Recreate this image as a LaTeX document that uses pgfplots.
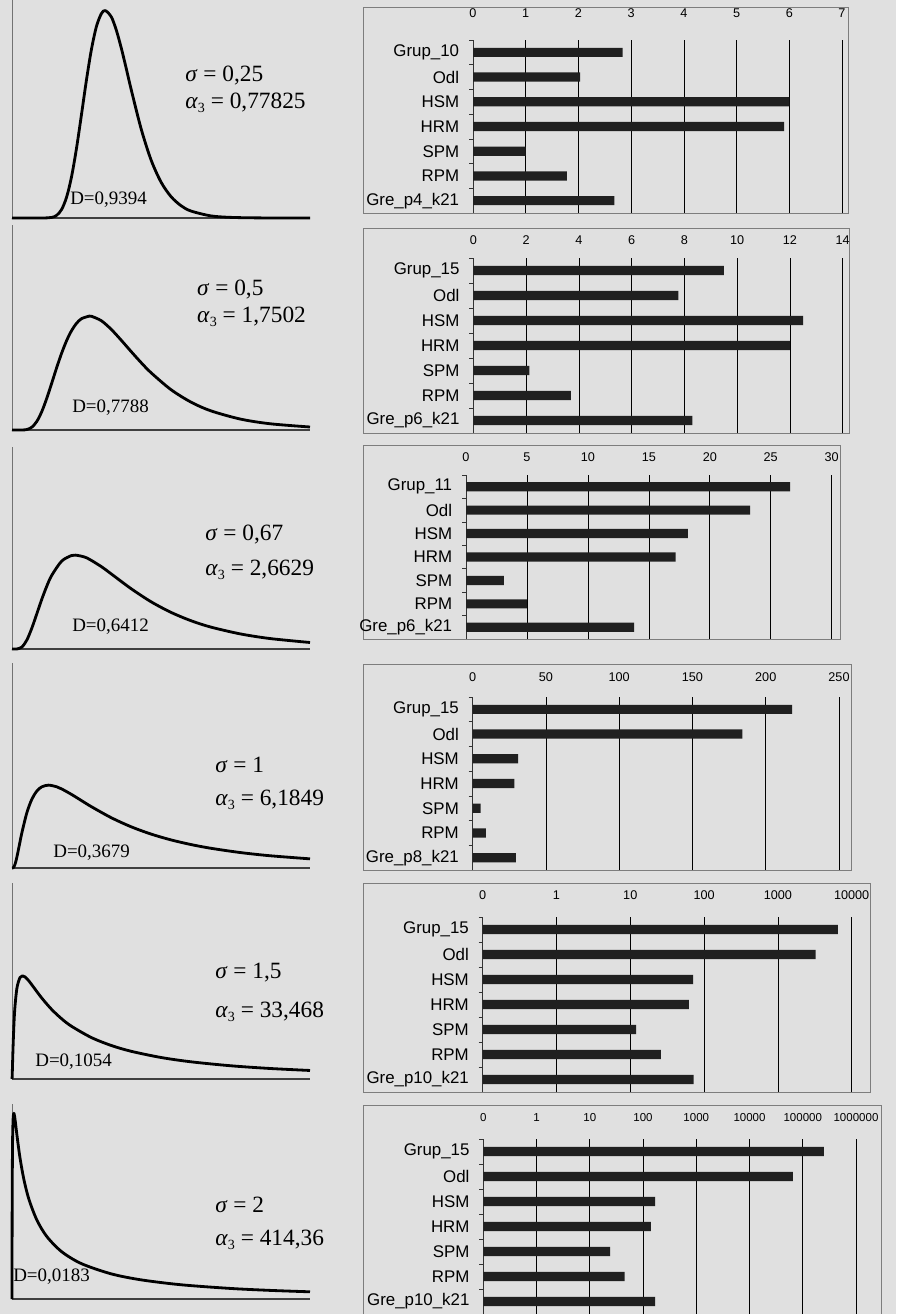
\documentclass[border=0pt]{standalone}
\usepackage{fontspec}
\setmainfont{Liberation Serif}
\setsansfont{Liberation Sans}
\usepackage{pgfplots}
\pgfplotsset{compat=1.18}
\definecolor{bg}{RGB}{224,224,224}
\definecolor{barc}{RGB}{32,32,32}
\definecolor{framec}{RGB}{125,125,125}
\newcommand{\sub}[1]{{\fontsize{10}{12}\selectfont\raisebox{-0.55ex}{#1}}}
\tikzset{
  ann/.style={font=\fontsize{16.6}{18}\selectfont, anchor=west, inner sep=0pt},
  dlab/.style={font=\fontsize{13.5}{15}\selectfont, anchor=west, inner sep=0pt},
}
\pgfplotsset{
  curve axis/.style={
    scale only axis, width=74.5mm,
    xmin=0, xmax=3, ymin=0,
    axis x line*=bottom, axis y line*=left,
    x axis line style={black!75, line width=0.9pt},
    y axis line style={black!55, line width=0.5pt},
    xtick=\empty, ytick=\empty,
    clip=false, anchor=south west,
  },
  curve/.style={black, line width=2pt, smooth, line join=round, mark=none},
  bar axis/.style={
    scale only axis, anchor=north west,
    axis x line*=top, axis y line*=left,
    x axis line style={draw=none},
    y axis line style={black!80, line width=0.6pt},
    xmajorgrids, major grid style={black, line width=0.45pt},
    ymin=-0.5, ymax=6.5, y dir=reverse,
    ytick={0,...,6},
    minor ytick={-0.5,0.5,1.5,2.5,3.5,4.5,5.5},
    tick align=outside, major tick length=0pt, minor tick length=1mm,
    minor tick style={black!80, line width=0.5pt},
    xminorticks=false,
    y tick label style={font=\sffamily\fontsize{12}{14}\selectfont, inner sep=0pt},
    x tick label style={font=\sffamily\fontsize{9}{10}\selectfont, inner sep=0pt, text depth=0pt},
    yticklabel shift=3.4mm,
    /pgf/number format/assume math mode=true,
  },
  bars/.style={xbar, bar width=2.3mm, fill=barc, draw=none},
}
\begin{document}
\begin{tikzpicture}
\useasboundingbox (0,0) rectangle (224mm,-328.5mm);
\fill[bg] (0,0) rectangle (224mm,-328.5mm);
% frames of bar charts
\draw[framec, line width=0.5pt] (90.75mm,-1.75mm) rectangle (212mm,-53.25mm);
\draw[framec, line width=0.5pt] (90.75mm,-57mm) rectangle (212.25mm,-108.25mm);
\draw[framec, line width=0.5pt] (90.75mm,-111.25mm) rectangle (210mm,-159.75mm);
\draw[framec, line width=0.5pt] (90.75mm,-166mm) rectangle (212.75mm,-217.5mm);
\draw[framec, line width=0.5pt] (90.75mm,-220.75mm) rectangle (217.5mm,-273mm);
\draw[framec, line width=0.5pt] (90.75mm,-276.25mm) rectangle (220.25mm,-328.5mm);

% ---------- Row 1 ----------
\begin{axis}[curve axis, at={(3mm,-54.5mm)}, height=54.5mm, ymax=1.73]
\addplot[curve] coordinates {(0,0) (0.3,0) (0.4,0.0048) (0.45,0.0216) (0.5,0.0683) (0.55,0.1664) (0.6,0.3298) (0.65,0.5563) (0.7,0.8239) (0.75,1.0975) (0.8,1.3393) (0.85,1.5199) (0.9,1.6224) (0.9394,1.646) (1.0,1.5958) (1.05,1.4911) (1.1,1.3490) (1.15,1.1869) (1.2,1.0193) (1.3,0.7077) (1.4,0.4607) (1.5,0.2855) (1.6,0.1704) (1.7,0.0987) (1.8,0.0559) (2.0,0.0171) (2.2,0.0050) (2.5,0.0008) (3.0,0)};
\node[ann] at (axis cs:1.742,1.127) {\textit{σ} = 0,25};
\node[ann] at (axis cs:1.742,0.913) {\textit{α}\sub{3} = 0,77825};
\node[dlab] at (axis cs:0.584,0.143) {D=0,9394};
\end{axis}
\begin{axis}[bar axis, at={(118.25mm,-10mm)}, width=92.25mm, height=43.25mm,
  xmin=0, xmax=7, xtick={0,...,7}, xticklabel shift=5.6mm,
  yticklabels={Grup\_10,Odl,HSM,HRM,SPM,RPM,Gre\_p4\_k21}]
\addplot[bars] coordinates {(2.84,0) (2.03,1) (6.0,2) (5.9,3) (1.0,4) (1.78,5) (2.68,6)};
\end{axis}

% ---------- Row 2 ----------
\begin{axis}[curve axis, at={(3mm,-107.5mm)}, height=51.25mm, ymax=1.627]
\addplot[curve] coordinates {(0,0) (0.1,0.0002) (0.15,0.004) (0.2,0.0225) (0.25,0.0684) (0.3,0.1465) (0.35,0.2517) (0.4,0.372) (0.45,0.4954) (0.5,0.6104) (0.55,0.7098) (0.6,0.7892) (0.65,0.8469) (0.7,0.8837) (0.7788,0.904) (0.8,0.9028) (0.9,0.867) (1.0,0.7979) (1.1,0.7123) (1.2,0.6222) (1.3,0.5348) (1.4,0.4545) (1.6,0.3206) (1.8,0.2221) (2.0,0.1526) (2.3,0.0866) (2.6,0.0494) (3.0,0.0238)};
\node[ann] at (axis cs:1.862,1.111) {\textit{σ} = 0,5};
\node[ann] at (axis cs:1.862,0.897) {\textit{α}\sub{3} = 1,7502};
\node[dlab] at (axis cs:0.604,0.175) {D=0,7788};
\end{axis}
\begin{axis}[bar axis, at={(118.33mm,-64.5mm)}, width=92.35mm, height=43.75mm,
  xmin=0, xmax=14, xtick={0,2,...,14}, xticklabel shift=3.2mm,
  yticklabels={Grup\_15,Odl,HSM,HRM,SPM,RPM,Gre\_p6\_k21}]
\addplot[bars] coordinates {(9.5,0) (7.77,1) (12.5,2) (12.0,3) (2.12,4) (3.7,5) (8.3,6)};
\end{axis}

% ---------- Row 3 ----------
\begin{axis}[curve axis, at={(3mm,-162.25mm)}, height=50.5mm, ymax=1.603]
\addplot[curve] coordinates {(0,0) (0.05,0.0005) (0.1,0.0162) (0.15,0.0721) (0.2,0.1663) (0.25,0.2801) (0.3,0.395) (0.35,0.4985) (0.4,0.5843) (0.5,0.6974) (0.6,0.7421) (0.6412,0.745) (0.75,0.724) (0.9,0.6535) (1.0,0.5954) (1.2,0.4782) (1.4,0.3749) (1.6,0.291) (1.8,0.2251) (2.0,0.1743) (2.3,0.1196) (2.6,0.0828) (3.0,0.0517)};
\node[ann] at (axis cs:1.943,0.905) {\textit{σ} = 0,67};
\node[ann] at (axis cs:1.943,0.627) {\textit{α}\sub{3} = 2,6629};
\node[dlab] at (axis cs:0.604,0.175) {D=0,6412};
\end{axis}
\begin{axis}[bar axis, at={(116.5mm,-118.75mm)}, width=91.42mm, height=41mm,
  xmin=0, xmax=30, xtick={0,5,...,30}, xticklabel shift=3.2mm,
  yticklabels={Grup\_11,Odl,HSM,HRM,SPM,RPM,Gre\_p6\_k21}]
\addplot[bars] coordinates {(26.6,0) (23.3,1) (18.2,2) (17.2,3) (3.1,4) (5.0,5) (13.8,6)};
\end{axis}

% ---------- Row 4 ----------
\begin{axis}[curve axis, at={(3mm,-217mm)}, height=51.25mm, ymax=1.627]
\addplot[curve] coordinates {(0,0) (0.01,0.001) (0.02,0.0095) (0.035,0.0413) (0.05,0.0898) (0.075,0.1857) (0.1,0.2816) (0.15,0.4399) (0.2,0.5463) (0.25,0.6105) (0.3,0.6442) (0.3679,0.6577) (0.45,0.6445) (0.5,0.6275) (0.6,0.5836) (0.7,0.5348) (0.8,0.4864) (1.0,0.3989) (1.2,0.327) (1.4,0.2693) (1.6,0.2233) (1.8,0.1865) (2.0,0.1569) (2.3,0.1226) (2.6,0.0972) (3.0,0.0727)};
\node[ann] at (axis cs:2.044,0.817) {\textit{σ} = 1};
\node[ann] at (axis cs:2.044,0.540) {\textit{α}\sub{3} = 6,1849};
\node[dlab] at (axis cs:0.413,0.119) {D=0,3679};
\end{axis}
\begin{axis}[bar axis, at={(118.17mm,-174.25mm)}, width=91.58mm, height=43.25mm,
  xmin=0, xmax=250, xtick={0,50,...,250}, xticklabel shift=3.7mm,
  yticklabels={Grup\_15,Odl,HSM,HRM,SPM,RPM,Gre\_p8\_k21}]
\addplot[bars] coordinates {(218,0) (184,1) (31,2) (28.5,3) (5.5,4) (9,5) (29.5,6)};
\end{axis}

% ---------- Row 5 ----------
\begin{axis}[curve axis, at={(3mm,-269.75mm)}, height=49mm, ymax=1.556]
\addplot[curve] coordinates {(0,0) (0.002,0.025) (0.005,0.1038) (0.01,0.2389) (0.02,0.4438) (0.03,0.5768) (0.05,0.724) (0.08,0.8055) (0.1054,0.819) (0.13,0.8112) (0.17,0.7787) (0.22,0.7263) (0.3,0.6424) (0.4,0.5517) (0.5,0.478) (0.6,0.4183) (0.8,0.3288) (1.0,0.266) (1.2,0.22) (1.5,0.1709) (1.8,0.1368) (2.2,0.1053) (2.6,0.0835) (3.0,0.0678)};
\node[ann] at (axis cs:2.044,0.841) {\textit{σ} = 1,5};
\node[ann] at (axis cs:2.044,0.532) {\textit{α}\sub{3} = 33,468};
\node[dlab] at (axis cs:0.232,0.135) {D=0,1054};
\end{axis}
\begin{axis}[bar axis, at={(120.67mm,-229.25mm)}, width=92.25mm, height=43.75mm,
  xmode=log, log origin x=infty, xmin=0.1, xmax=10000,
  xtick={0.1,1,10,100,1000,10000}, xticklabels={0,1,10,100,1000,10000},
  xticklabel shift=4.2mm,
  yticklabels={Grup\_15,Odl,HSM,HRM,SPM,RPM,Gre\_p10\_k21}]
\addplot[bars] coordinates {(6500,0) (3250,1) (71,2) (62,3) (12,4) (26,5) (72,6)};
\end{axis}

% ---------- Row 6 ----------
\begin{axis}[curve axis, at={(3mm,-324.75mm)}, height=48.75mm, ymax=1.548]
\addplot[curve] coordinates {(0,0) (0.0005,0.291) (0.001,0.512) (0.002,0.798) (0.004,1.1036) (0.007,1.3126) (0.012,1.4412) (0.0183,1.474) (0.025,1.4561) (0.035,1.3986) (0.05,1.2994) (0.08,1.1233) (0.12,0.9477) (0.17,0.7925) (0.25,0.6275) (0.35,0.4966) (0.5,0.3757) (0.7,0.2805) (1.0,0.1995) (1.3,0.1521) (1.7,0.1133) (2.2,0.0839) (2.6,0.0684) (3.0,0.0572)};
\node[ann] at (axis cs:2.044,0.746) {\textit{σ} = 2};
\node[ann] at (axis cs:2.044,0.468) {\textit{α}\sub{3} = 414,36};
\node[dlab] at (axis cs:0.01,0.175) {D=0,0183};
\end{axis}
\begin{axis}[bar axis, at={(120.83mm,-284.75mm)}, width=93.17mm, height=43.75mm,
  xmode=log, log origin x=infty, xmin=0.1, xmax=1000000,
  xtick={0.1,1,10,100,1000,10000,100000,1000000},
  xticklabels={0,1,10,100,1000,10000,100000,1000000},
  x tick label style={font=\sffamily\fontsize{8.2}{9}\selectfont},
  xticklabel shift=4.2mm,
  yticklabels={Grup\_15,Odl,HSM,HRM,SPM,RPM,Gre\_p10\_k21}]
\addplot[bars] coordinates {(250000,0) (65000,1) (168,2) (141,3) (24,4) (45,5) (168,6)};
\end{axis}
\end{tikzpicture}
\end{document}
